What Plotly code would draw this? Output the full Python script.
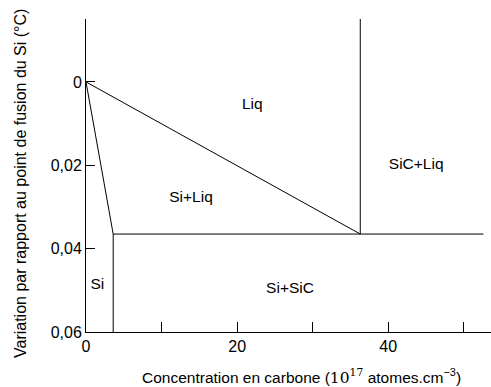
import plotly.graph_objects as go

# Phase boundaries (x: carbon concentration, 1e17 at/cm3; y: undercooling below Si melting point)
liquidus_x = [0, 36.3]
liquidus_y = [0, 0.0365]
si_liquidus_x = [0, 3.6]
si_liquidus_y = [0, 0.0365]
eutectic_x = [3.6, 52.6]
eutectic_y = [0.0365, 0.0365]
solvus_x = [3.6, 3.6]
solvus_y = [0.0365, 0.06]
sic_x = [36.3, 36.3]
sic_y = [-0.0151, 0.0365]

region_labels = ["Liq", "SiC+Liq", "Si+Liq", "Si+SiC", "Si"]
region_x = [22.0, 43.7, 13.9, 27.0, 1.5]
region_y = [0.0055, 0.0199, 0.0279, 0.0497, 0.0487]

x_ticks = [0, 20, 40]
x_ticktext = ["0", "20", "40"]
x_minor_ticks = [10, 30, 50]
y_ticks = [0, 0.02, 0.04, 0.06]
y_ticktext = ["0", "0,02", "0,04", "0,06"]

FONT = "Liberation Sans, Arial, sans-serif"
line = dict(color="black", width=1)

fig = go.Figure()
for xs, ys in [(liquidus_x, liquidus_y), (si_liquidus_x, si_liquidus_y),
               (eutectic_x, eutectic_y), (solvus_x, solvus_y), (sic_x, sic_y)]:
    fig.add_trace(go.Scatter(x=xs, y=ys, mode="lines", line=line,
                             showlegend=False, hoverinfo="skip", cliponaxis=False))

fig.add_trace(go.Scatter(x=region_x, y=region_y, mode="text", text=region_labels,
                         textfont=dict(family=FONT, size=15.5, color="black"),
                         showlegend=False, hoverinfo="skip"))

fig.update_layout(
    width=491, height=387,
    margin=dict(l=86, r=0, t=19, b=55),
    paper_bgcolor="white", plot_bgcolor="white",
    font=dict(family=FONT, size=16, color="black"),
    xaxis=dict(range=[0, 53.6], tickmode="array", tickvals=x_ticks, ticktext=x_ticktext,
               ticks="inside", ticklen=10, tickcolor="black", tickwidth=1,
               minor=dict(tickmode="array", tickvals=x_minor_ticks, ticks="inside",
                          ticklen=10, tickcolor="black", tickwidth=1, showgrid=False),
               showline=True, linecolor="black", linewidth=1,
               showgrid=False, zeroline=False),
    yaxis=dict(range=[0.06, -0.0151], tickvals=y_ticks, ticktext=y_ticktext,
               ticks="inside", ticklen=9, tickcolor="black", tickwidth=1,
               showline=True, linecolor="black", linewidth=1,
               showgrid=False, zeroline=False),
    annotations=[
        dict(text="Variation par rapport au point de fusion du Si (°C)",
             xref="paper", yref="paper", x=-(86 - 20) / 405, y=(332 - 184) / 313,
             textangle=-90, showarrow=False, xanchor="center", yanchor="middle",
             font=dict(family=FONT, size=16)),
        dict(text="Concentration en carbone (<span style='font-family:DejaVu Serif, serif'>10<sup>17</sup></span> atomes.cm<sup>−3</sup>)",
             xref="paper", yref="paper", x=(301 - 86) / 405, y=-(376 - 332) / 313,
             showarrow=False, xanchor="center", yanchor="middle",
             font=dict(family=FONT, size=15.5)),
    ],
)

fig.write_html("out.html")
